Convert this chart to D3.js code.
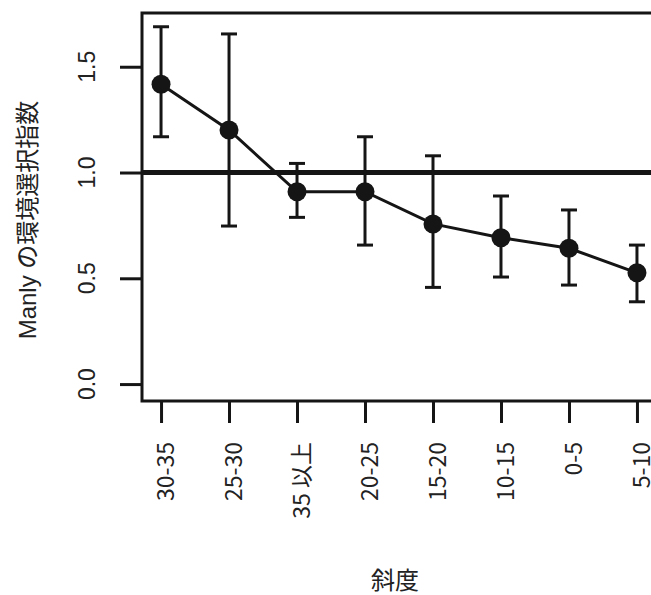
<!DOCTYPE html>
<html>
<head>
<meta charset="utf-8">
<script src="https://cdn.jsdelivr.net/npm/d3@7/dist/d3.min.js"></script>
<style>
  html, body { margin: 0; padding: 0; background: #ffffff; }
  svg { display: block; }
</style>
</head>
<body>
<svg id="chart" width="651" height="595"></svg>
<script>
// ---- data ----
const categories = ["30-35", "25-30", "35 以上", "20-25", "15-20", "10-15", "0-5", "5-10"];
const means      = [1.417, 1.201, 0.909, 0.909, 0.757, 0.692, 0.642, 0.526];
const upper      = [1.689, 1.655, 1.043, 1.169, 1.079, 0.889, 0.823, 0.657];
const lower      = [1.169, 0.747, 0.788, 0.657, 0.457, 0.506, 0.468, 0.389];
const yTicks     = [0.0, 0.5, 1.0, 1.5];
const refValue   = 1.0;
const xTitle = "斜度";
const yTitle = "Manly の環境選択指数";

const svg = d3.select("#chart");
const ink = "#151515";

const x = d3.scaleLinear().domain([-0.28, categories.length - 1 + 0.28]).range([142, 656]);
const y = d3.scaleLinear().domain([-0.080, 1.754]).range([401, 13]);

const data = categories.map((c, i) => ({ c, i, m: means[i], hi: upper[i], lo: lower[i] }));

// plot box
const [x0, x1] = x.range();
const [yb, yt] = y.range();
svg.append("rect")
  .attr("x", x0).attr("y", yt)
  .attr("width", x1 - x0).attr("height", yb - yt)
  .attr("fill", "none").attr("stroke", ink).attr("stroke-width", 3);

// reference line
svg.append("line")
  .attr("x1", x0).attr("x2", x1)
  .attr("y1", y(refValue)).attr("y2", y(refValue))
  .attr("stroke", ink).attr("stroke-width", 5);

// y axis ticks
const yAxis = d3.axisLeft(y).tickValues(yTicks).tickSize(22).tickFormat("");
const gy = svg.append("g").attr("transform", `translate(${x0},0)`).call(yAxis);
gy.select(".domain").remove();
gy.selectAll(".tick line").attr("stroke", ink).attr("stroke-width", 3);

svg.append("g").selectAll("text").data(yTicks).join("text")
  .attr("transform", d => `translate(95,${y(d)}) rotate(-90)`)
  .attr("text-anchor", "middle")
  .attr("font-family", "'Liberation Sans', Arial, sans-serif")
  .attr("font-size", 23)
  .attr("fill", "#222")
  .text(d => d.toFixed(1));

// x axis ticks
const xAxis = d3.axisBottom(x).tickValues(d3.range(categories.length)).tickSize(22).tickFormat("");
const gx = svg.append("g").attr("transform", `translate(0,${yb})`).call(xAxis);
gx.select(".domain").remove();
gx.selectAll(".tick line").attr("stroke", ink).attr("stroke-width", 3);

svg.append("g").selectAll("text").data(data).join("text")
  .attr("transform", d => `translate(${x(d.i) + 13},442) rotate(-90)`)
  .attr("text-anchor", "end")
  .attr("font-family", "'Noto Sans CJK JP', 'Liberation Sans', sans-serif")
  .attr("font-size", 23)
  .attr("fill", "#222")
  .text(d => d.c);

// error bars
const eb = svg.append("g").attr("stroke", ink).attr("stroke-width", 3);
eb.selectAll("line.v").data(data).join("line").attr("class", "v")
  .attr("x1", d => x(d.i)).attr("x2", d => x(d.i))
  .attr("y1", d => y(d.hi)).attr("y2", d => y(d.lo));
eb.selectAll("line.t").data(data).join("line").attr("class", "t")
  .attr("x1", d => x(d.i) - 8).attr("x2", d => x(d.i) + 8)
  .attr("y1", d => y(d.hi)).attr("y2", d => y(d.hi));
eb.selectAll("line.b").data(data).join("line").attr("class", "b")
  .attr("x1", d => x(d.i) - 8).attr("x2", d => x(d.i) + 8)
  .attr("y1", d => y(d.lo)).attr("y2", d => y(d.lo));

// connecting line
svg.append("path").datum(data)
  .attr("fill", "none").attr("stroke", ink).attr("stroke-width", 3)
  .attr("d", d3.line().x(d => x(d.i)).y(d => y(d.m)));

// points
svg.append("g").selectAll("circle").data(data).join("circle")
  .attr("cx", d => x(d.i)).attr("cy", d => y(d.m)).attr("r", 9.5)
  .attr("fill", ink);

// titles
svg.append("text")
  .attr("x", 395).attr("y", 589)
  .attr("text-anchor", "middle")
  .attr("font-family", "'Noto Sans CJK JP', sans-serif")
  .attr("font-size", 24)
  .attr("fill", "#222")
  .text(xTitle);

svg.append("text")
  .attr("transform", "translate(36,220) rotate(-90)")
  .attr("text-anchor", "middle")
  .attr("font-family", "'Liberation Sans', 'Noto Sans CJK JP', sans-serif")
  .attr("font-size", 24)
  .attr("fill", "#222")
  .text(yTitle);
</script>
</body>
</html>
